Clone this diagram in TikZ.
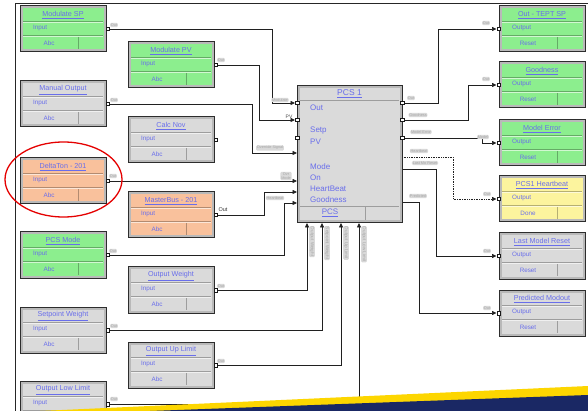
\documentclass[tikz,border=0pt]{standalone}
\usepackage{fontspec}
\setmainfont{Liberation Sans}
\usetikzlibrary{arrows.meta,calc,backgrounds}
\definecolor{gfill}{RGB}{140,238,142}
\definecolor{gyfill}{RGB}{218,218,218}
\definecolor{orfill}{RGB}{249,193,156}
\definecolor{ylfill}{RGB}{252,244,158}
\definecolor{txtblue}{RGB}{105,110,235}
\definecolor{navyband}{RGB}{26,40,100}
\definecolor{stripe}{RGB}{253,214,0}
\tikzset{
  blkframe/.style={draw=gray!35!black, line width=1pt, fill=gray!55, minimum width=86, minimum height=46, inner sep=0, outer sep=0, anchor=north west},
  ttl/.style={text=txtblue, font=\fontsize{7.2}{8}\selectfont, inner sep=0},
  rowtxt/.style={text=txtblue, font=\fontsize{6.3}{7}\selectfont, inner sep=0},
  pcstxt/.style={text=txtblue, font=\fontsize{8}{9}\selectfont, inner sep=0, anchor=west},
  portsq/.style={draw=gray!20!black, fill=white, minimum size=3.5, inner sep=0, line width=0.5},
  wire/.style={draw=gray!25!black, line width=0.7},
  arr/.style={wire, -{Triangle[length=4.5pt,width=4pt]}},
  blob/.style={fill=gray!30, text=gray!70, font=\fontsize{3.8}{4.2}\selectfont, inner sep=0.8, rounded corners=1.2},
  vblob/.style={blob, rotate=-90, anchor=west, font=\fontsize{4.6}{5}\selectfont},
  ring/.style={draw=red!90!black, line width=1.3pt},
}
\newcommand{\FBlk}[7]{%
  \node[blkframe] (#1) at (#2,#3) {};
  \begin{scope}[shift={(#2,#3)}]
    \fill[#4] (2.5,2.5) rectangle (83.5,43.5);
    \draw[#4!72!black, line width=0.5] (3,15) -- (83,15) (3,29.5) -- (83,29.5) (58,31) -- (58,43);
    \draw[white, line width=0.4, opacity=0.6] (3,16) -- (83,16) (3,30.5) -- (83,30.5);
    \node[ttl] (#1t) at (43,9) {\underline{#5}};
    \node[rowtxt, anchor=west] (#1r) at (13,22) {#6};
    \node[rowtxt] (#1b) at (29,37) {#7};
  \end{scope}
}
\begin{document}
\begin{tikzpicture}[x=1pt, y=-1pt]
\useasboundingbox (0,0) rectangle (588,411);

% left column
\FBlk{msp}{20}{6}{gfill}{Modulate SP}{Input}{Abc}
\FBlk{mo}{20}{81}{gyfill}{Manual Output}{Input}{Abc}
\FBlk{dt}{20}{158}{orfill}{DeltaTon - 201}{Input}{Abc}
\FBlk{pm}{20}{232}{gfill}{PCS Mode}{Input}{Abc}
\FBlk{sw}{20}{307}{gyfill}{Setpoint Weight}{Input}{Abc}
\FBlk{ol}{20}{381}{gyfill}{Output Low Limit}{Input}{}
% second column
\FBlk{mpv}{128}{42}{gfill}{Modulate PV}{Input}{Abc}
\FBlk{cn}{128}{117}{gyfill}{Calc Nov}{Input}{Abc}
\FBlk{mb}{128}{192}{orfill}{MasterBus - 201}{Input}{Abc}
\FBlk{ow}{128}{267}{gyfill}{Output Weight}{Input}{Abc}
\FBlk{ou}{128}{342}{gyfill}{Output Up Limit}{Input}{Abc}
% right column
\FBlk{ots}{499}{6}{gfill}{Out - TEPT SP}{Output}{Reset}
\FBlk{gd}{499}{62}{gfill}{Goodness}{Output}{Reset}
\FBlk{me}{499}{120}{gfill}{Model Error}{Output}{Reset}
\FBlk{hb}{499}{176}{ylfill}{PCS1 Heartbeat}{Output}{Done}
\FBlk{lmr}{499}{233}{gyfill}{Last Model Reset}{Output}{Reset}
\FBlk{pmo}{499}{290}{gyfill}{Predicted Modout}{Output}{Reset}

% PCS block
\node[blkframe, minimum width=105, minimum height=137] (pcs) at (297,86) {};
\fill[gyfill] (299.5,88.5) rectangle (399.5,220.5);
\draw[gyfill!72!black, line width=0.5] (300,100) -- (399,100) (300,206) -- (399,206) (365,207) -- (365,220);
\node[ttl, font=\fontsize{8.5}{9}\selectfont] (pcst) at (349.5,94) {\underline{PCS 1}};
\node[pcstxt] (pcs1) at (310,108) {Out};
\node[pcstxt] (pcs2) at (310,131) {Setp};
\node[pcstxt] (pcs3) at (310,142) {PV};
\node[pcstxt] (pcs4) at (310,167) {Mode};
\node[pcstxt] (pcs5) at (310,178) {On};
\node[pcstxt] (pcs6) at (310,189) {HeartBeat};
\node[pcstxt] (pcs7) at (310,200) {Goodness};
\node[pcstxt, anchor=center] (pcs8) at (330,213) {\underline{PCS}};

% ports
\foreach \n in {msp,mo,dt,pm,sw,ol,mpv,cn,mb,ow,ou} {
  \node[portsq] (\n P) at ($(\n.east)+(1.5,0)$) {};
}
\foreach \n in {ots,gd,me,hb,lmr,pmo} {
  \node[portsq] (\n P) at ($(\n.west)+(-0.5,0)$) {};
}
\node[portsq] (pi1) at (297,103) {};
\node[portsq] (pi2) at (297,120) {};
\node[portsq] (pi3) at (297,138) {};
\node[portsq] (po1) at (402,103) {};
\node[portsq] (po2) at (402,120) {};
\node[portsq] (po3) at (402,138) {};
\coordinate (pa1) at (297,153);
\coordinate (pa2) at (297,181);
\coordinate (pa3) at (297,192);
\coordinate (pa4) at (297,203);
\coordinate (pb1) at (307,223);
\coordinate (pb2) at (322,223);
\coordinate (pb3) at (341,223);
\coordinate (pb4) at (359,223);
\coordinate (pd) at (402,157);
\coordinate (pl) at (402,169);
\coordinate (pp) at (402,202);

\begin{scope}[on background layer]
  \fill[white] (0,0) rectangle (588,411);
  \draw[gray!30!black, line width=0.8] (15,411) -- (15,3) -- (588,3);
  % inputs
  \draw[arr] (mspP) -| (272,103) -- (pi1.west);
  \draw[arr] (mpvP) -| (259,120) -- (pi2.west);
  \draw[arr] (moP) -| (252,153) -- (pa1);
  \draw[arr] (dtP) -- (pa2);
  \draw[arr] (mbP) -| (264,192) -- (pa3);
  \draw[arr] (pmP) -| (284,203) -- (pa4);
  \draw[arr] (owP) -| (pb1);
  \draw[arr] (swP) -| (pb2);
  \draw[arr] (ouP) -| (pb3);
  \draw[arr] (olP) -| (pb4);
  % outputs
  \draw[arr] (po1) -| (438,29) -- (otsP.west);
  \draw[arr] (po2) -| (468,85) -- (gdP.west);
  \draw[arr] (po3) -- (482,138) -- (482,143) -- (meP.west);
  \draw[arr, densely dotted] (pd) -| (453,199) -- (hbP.west);
  \draw[arr] (pl) -| (436,256) -- (lmrP.west);
  \draw[arr] (pp) -| (419,313) -- (pmoP.west);
\end{scope}

% connector labels
\node[blob] (l1) at (114,25) {Out};
\node[blob] (l2) at (114,100) {Out};
\node[blob] (l3) at (113,176) {Out};
\node[blob] (l4) at (113,251) {Out};
\node[blob] (l5) at (114,326) {Out};
\node[blob] (l6) at (114,399) {Out};
\node[blob] (l7) at (221,60) {Out};
\node[blob] (l8) at (221,286) {Out};
\node[blob] (l9) at (221,361) {Out};
\node[text=black!80, font=\fontsize{5.5}{6}\selectfont, inner sep=0] (l10) at (223,210) {Out};
\node[blob] (l11) at (280,100) {Modulate};
\node[text=black!70, font=\fontsize{5}{6}\selectfont, inner sep=0] (l12) at (289,117) {PV};
\node[blob] (l13) at (270,148) {Override Signal};
\node[blob, align=center] (l14) at (286,176) {Ovr\\Mode};
\node[blob] (l15) at (275,198) {Heartbeat};
\node[blob] (l16) at (411,98) {Out};
\node[blob] (l17) at (418,115) {Goodness};
\node[blob] (l18) at (421,132) {Model Error};
\node[blob] (l19) at (419,151) {Heartbeat};
\node[blob] (l20) at (425,163) {Last Mo Reset};
\node[blob] (l21) at (418,196) {Predicted};
\node[blob] (l22) at (486,23) {Out};
\node[blob] (l23) at (486,79) {Out};
\node[blob] (l24) at (483,137) {Model};
\node[blob] (l25) at (487,194) {Out};
\node[blob] (l26) at (487,251) {Out};
\node[blob] (l27) at (487,308) {Out};
\node[vblob] (v1) at (312,226) {Output Weight};
\node[vblob] (v2) at (327,226) {Setpoint Weight};
\node[vblob] (v3) at (346,226) {Output Up Limit};
\node[vblob] (v4) at (364,226) {Output Low Limit};

% highlight ring
\draw[ring] (63.5,179.5) ellipse [x radius=58.5, y radius=37.5];

% bottom band
\fill[stripe] (40,411) -- (588,386) -- (588,411) -- cycle;
\fill[navyband] (150,411) -- (588,395) -- (588,411) -- cycle;
\end{tikzpicture}
\end{document}
